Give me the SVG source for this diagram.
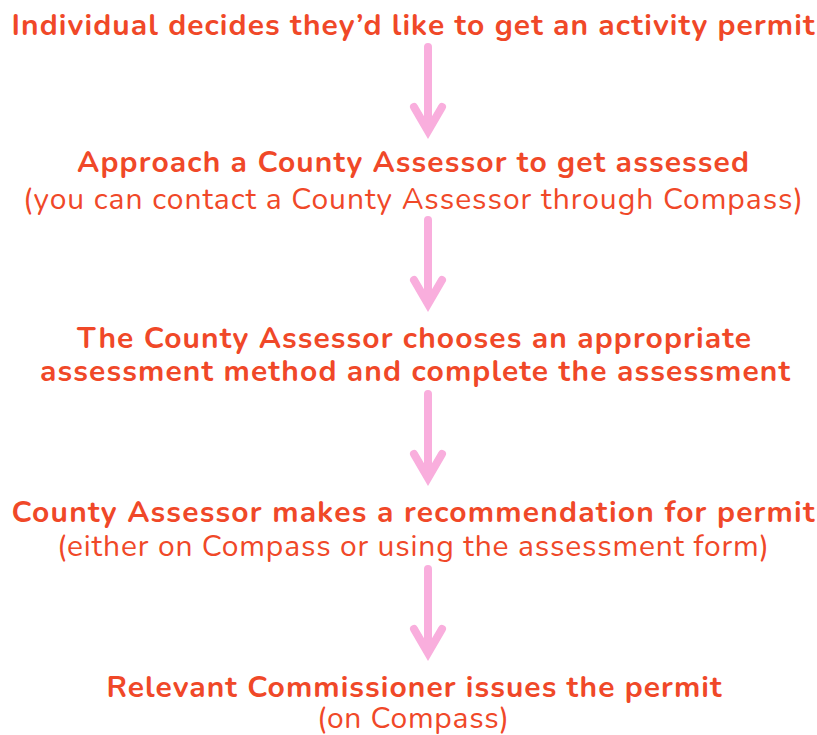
<svg xmlns="http://www.w3.org/2000/svg" width="817" height="735" viewBox="0 0 817 735">
<style>
text{font-family:"Nunito","Noto Sans","Open Sans","Liberation Sans",sans-serif;fill:#F04828;text-anchor:middle;font-size:30px}
.b{font-weight:bold}
.r{font-weight:normal}
.arr{fill:none;stroke:#F9AEDD;stroke-width:8;stroke-linecap:round;stroke-linejoin:miter}
</style>
<rect width="817" height="735" fill="#fff"/>
<g id="connectors">
<g id="a1"><path class="arr" d="M428,47V130M414,107L428,131L442,107"/></g>
<g id="a2"><path class="arr" d="M428,220V303M414,280L428,304L442,280"/></g>
<g id="a3"><path class="arr" d="M428,394V477M414,454L428,478L442,454"/></g>
<g id="a4"><path class="arr" d="M428,569V652M414,629L428,653L442,629"/></g>
</g>
<g id="n1"><text class="b" x="413" y="35" textLength="803">Individual decides they’d like to get an activity permit</text></g>
<g id="n2"><text class="b" x="413" y="172" textLength="672">Approach a County Assessor to get assessed</text>
<text class="r" x="413" y="209" textLength="780">(you can contact a County Assessor through Compass)</text></g>
<g id="n3"><text class="b" x="414" y="348" textLength="674">The County Assessor chooses an appropriate</text>
<text class="b" x="415" y="381" textLength="750">assessment method and complete the assessment</text></g>
<g id="n4"><text class="b" x="413" y="522" textLength="803">County Assessor makes a recommendation for permit</text>
<text class="r" x="413" y="556" textLength="712">(either on Compass or using the assessment form)</text></g>
<g id="n5"><text class="b" x="414" y="697" textLength="615">Relevant Commissioner issues the permit</text>
<text class="r" x="413" y="728" textLength="192">(on Compass)</text></g>
</svg>
